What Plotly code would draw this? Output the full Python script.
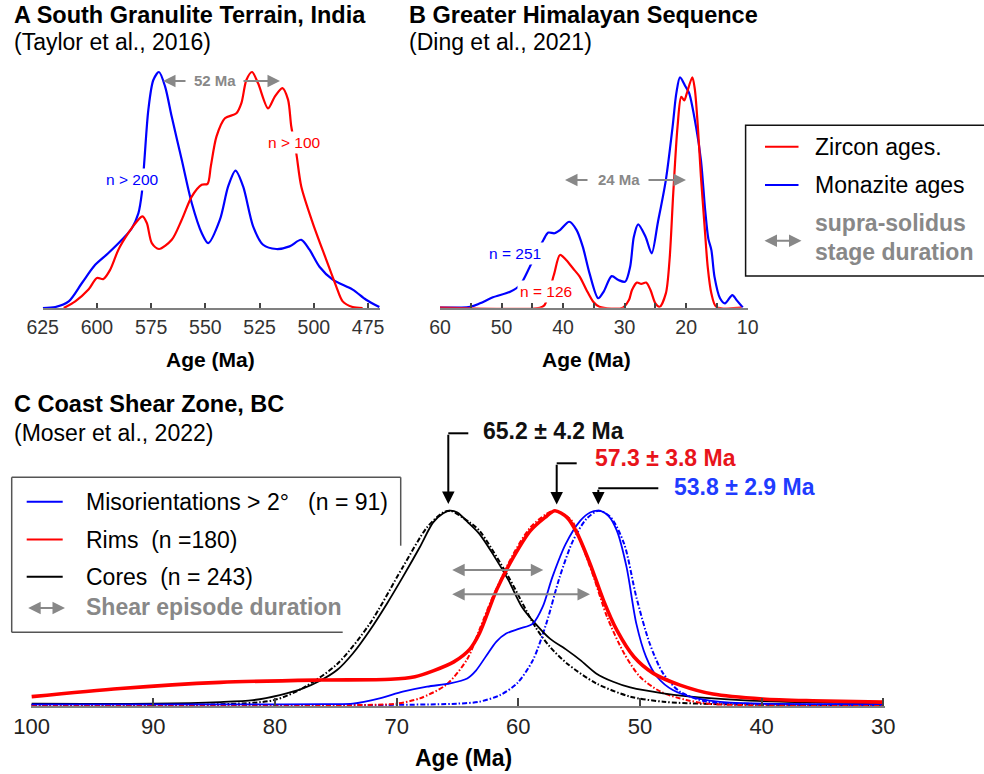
import plotly.graph_objects as go

W, H = 984, 774
FONT = "Liberation Sans, Arial, sans-serif"
BLUE, RED, GRAY, BLACK = "#0000ff", "#ff0000", "#888888", "#000000"

# ---------------- Panel A: South Granulite Terrain (ages in Ma, normalised density)
a_blue_age = [625, 619.2, 613, 606.9, 600.8, 594.7, 588.5, 583.9, 580.9, 579.3, 578.1, 576.3, 574, 571.4,
              568.6, 565.5, 560.9, 556.3, 551.7, 548.7, 543.3, 539.5, 536.1, 532.6, 528, 523.4, 517.3,
              511.2, 505.8, 502, 497.4, 491.3, 482.1, 475.9, 469.8]
a_blue_val = [0, 0.004, 0.028, 0.106, 0.183, 0.233, 0.289, 0.338, 0.401, 0.487, 0.628, 0.84, 0.966, 1.0,
              0.939, 0.81, 0.628, 0.445, 0.318, 0.275, 0.374, 0.515, 0.582, 0.515, 0.346, 0.268, 0.25,
              0.261, 0.289, 0.247, 0.175, 0.12, 0.078, 0.035, 0.004]
a_red_age = [615.3, 610, 603.9, 600, 597, 593.9, 590.1, 585.5, 581.6, 579, 577, 574.7, 571.4, 565.5, 560.9,
             556.3, 551.7, 549.0, 547.5, 544.9, 541, 535.7, 533.4, 531.1, 528.5, 525.7, 521.1, 518, 514.5,
             511.9, 510.4, 508.1, 505.8, 500.5, 494.3, 489.7, 486.7, 482.1, 477.5]
a_red_val = [0, 0.028, 0.078, 0.127, 0.123, 0.162, 0.247, 0.318, 0.367, 0.388, 0.36, 0.275, 0.25, 0.289, 0.374,
             0.472, 0.522, 0.526, 0.6, 0.726, 0.804, 0.825, 0.868, 0.966, 1.0, 0.952, 0.846, 0.896, 0.932,
             0.883, 0.769, 0.656, 0.515, 0.36, 0.205, 0.092, 0.028, 0.004, 0]
a_ticks = [625, 600, 575, 550, 525, 500, 475]

# ---------------- Panel B: Greater Himalayan Sequence
b_blue_age = [60, 55.1, 53.5, 51.4, 48.6, 47.0, 45.4, 43.2, 42.4, 41.4, 40.5, 39.0, 37.8, 36.8, 35.7, 34.3,
              33.4, 32.1, 31.0, 29.9, 29.1, 28.5, 27.8, 26.6, 25.6, 24.6, 23.3, 22.2, 21.6, 21.0, 20.1,
              19.5, 18.4, 17.6, 16.9, 16.4, 15.9, 15.4, 14.5, 13.7, 12.5, 11.8, 10.8]
b_blue_val = [0, 0.004, 0.019, 0.045, 0.069, 0.098, 0.178, 0.294, 0.326, 0.323, 0.337, 0.373, 0.337, 0.265,
              0.149, 0.041, 0.07, 0.137, 0.12, 0.113, 0.178, 0.308, 0.362, 0.308, 0.236, 0.37, 0.554, 0.786,
              0.93, 1.0, 0.96, 0.93, 0.786, 0.641, 0.42, 0.3, 0.25, 0.135, 0.041, 0.019, 0.055, 0.033, 0.001]
b_red_age = [60, 43.8, 43.0, 41.5, 40.5, 39.5, 38.4, 37.3, 36.2, 35.1, 34.1, 30.3, 29.3, 28.8, 28.0, 27.3,
             26.5, 25.8, 25.0, 24.3, 23.3, 22.7, 22.1, 21.4, 20.8, 20.3, 19.9, 19.0, 18.6, 18.1, 17.6, 17.0,
             16.5, 15.9, 15.1, 11]
b_red_val = [0, 0, 0.012, 0.142, 0.229, 0.207, 0.171, 0.135, 0.077, 0.026, 0.004, 0, 0.033, 0.077, 0.109,
             0.103, 0.109, 0.077, 0.019, 0.004, 0.062, 0.207, 0.496, 0.786, 0.915, 0.9, 0.93, 1.0, 0.95,
             0.786, 0.569, 0.352, 0.178, 0.062, 0.004, 0]
b_ticks = [60, 55, 50, 45, 40, 35, 30, 25, 20, 15, 10]
b_ticktext = ["60", "", "50", "", "40", "", "30", "", "20", "", "10"]

# ---------------- Panel C: Coast Shear Zone
c_core_age = [100, 90, 84.5, 81.8, 79.6, 77.7, 76.3, 74.9, 73.6, 72.2, 70.8, 69.5, 68.1, 67.0, 66.2, 65.6,
              65.0, 64.0, 63.2, 62.1, 60.8, 59.7, 58.6, 57.4, 56.0, 54.9, 53.6, 52.2, 50.8, 48.1, 44.0,
              38.5, 30]
c_core_val = [0.012, 0.012, 0.02, 0.03, 0.056, 0.09, 0.129, 0.184, 0.269, 0.388, 0.524, 0.66, 0.813, 0.94,
              0.986, 1.0, 0.99, 0.932, 0.881, 0.779, 0.643, 0.507, 0.422, 0.345, 0.286, 0.235, 0.167, 0.124,
              0.095, 0.065, 0.039, 0.022, 0.014]
c_core_fit_age = [100, 85, 80.1, 77.7, 74.9, 72.2, 69.5, 67.5, 66.2, 65.6, 64.0, 63.2, 60.8, 58.6, 57.4,
                  56.0, 53.6, 50.8, 48.1, 44.0, 30]
c_core_fit_val = [0.005, 0.008, 0.03, 0.092, 0.214, 0.422, 0.711, 0.915, 0.99, 1.0, 0.94, 0.898, 0.66, 0.405,
                  0.303, 0.218, 0.116, 0.048, 0.022, 0.01, 0.005]
c_rim_age = [100, 92.7, 84.5, 76.3, 70.5, 68.5, 67.0, 65.3, 64.0, 63.2, 61.8, 60.4, 59.0, 57.8, 57.0, 56.0,
             55.2, 54.1, 53.0, 51.9, 50.5, 48.9, 46.7, 44.0, 39.9, 35.8, 30]
c_rim_val = [0.048, 0.09, 0.121, 0.133, 0.137, 0.15, 0.18, 0.226, 0.29, 0.371, 0.592, 0.762, 0.898, 0.966,
             1.0, 0.966, 0.889, 0.728, 0.541, 0.388, 0.252, 0.167, 0.107, 0.061, 0.036, 0.027, 0.02]
c_rim_fit_age = [100, 72, 70, 68.1, 65.9, 64.2, 63.2, 62.1, 60.4, 59.0, 57.7, 57.0, 55.6, 54.9, 53.8, 52.7,
                 51.3, 50.0, 48.3, 46.2, 44.0, 30]
c_rim_fit_val = [0.005, 0.006, 0.012, 0.039, 0.11, 0.24, 0.39, 0.558, 0.779, 0.915, 0.983, 1.0, 0.949, 0.847,
                 0.66, 0.456, 0.269, 0.15, 0.073, 0.031, 0.01, 0.005]
c_mis_age = [100, 80, 76, 73.6, 71.4, 69.5, 67.5, 65.6, 64.2, 63.5, 62.6, 61.8, 61.0, 59.9, 58.8, 58.0, 57.2,
             56.1, 54.9, 54.1, 53.4, 52.6, 51.9, 51.1, 50.3, 49.5, 48.6, 47.3, 45.3, 42.6, 30]
c_mis_val = [0.008, 0.008, 0.01, 0.012, 0.039, 0.073, 0.099, 0.116, 0.141, 0.18, 0.26, 0.33, 0.371, 0.396,
             0.422, 0.507, 0.66, 0.83, 0.949, 0.991, 1.0, 0.974, 0.898, 0.711, 0.422, 0.252, 0.15, 0.082,
             0.039, 0.017, 0.01]
c_mis_fit_age = [100, 70, 65, 63.2, 61.5, 60.1, 58.8, 57.7, 56.6, 55.5, 54.4, 53.4, 52.4, 51.3, 50.3, 49.2,
                 48.1, 46.7, 44.5, 40, 30]
c_mis_fit_val = [0.005, 0.006, 0.012, 0.022, 0.056, 0.116, 0.235, 0.422, 0.66, 0.847, 0.958, 1.0, 0.966, 0.83,
                 0.558, 0.32, 0.167, 0.073, 0.022, 0.01, 0.005]
c_ticks = [100, 90, 80, 70, 60, 50, 40, 30]
c_peaks = ["65.2 ± 4.2 Ma", "57.3 ± 3.8 Ma", "53.8 ± 2.9 Ma"]


def X(p):
    return p / W


def Y(p):
    return 1 - p / H


fig = go.Figure()


def curve(x, y, color, width, xa, ya, dash="solid"):
    fig.add_trace(go.Scatter(x=x, y=y, mode="lines", xaxis=xa, yaxis=ya, showlegend=False,
                             hoverinfo="skip",
                             line=dict(color=color, width=width, shape="spline", smoothing=0.8, dash=dash)))


curve(a_blue_age, a_blue_val, BLUE, 2.2, "x", "y")
curve(a_red_age, a_red_val, RED, 2.2, "x", "y")
curve(b_blue_age, b_blue_val, BLUE, 2.2, "x2", "y2")
curve(b_red_age, b_red_val, RED, 2.2, "x2", "y2")
DD = "5px,2px,1.5px,2px"
curve(c_core_fit_age, c_core_fit_val, BLACK, 2, "x3", "y3", DD)
curve(c_mis_fit_age, c_mis_fit_val, BLUE, 2, "x3", "y3", DD)
curve(c_rim_fit_age, c_rim_fit_val, RED, 2, "x3", "y3", DD)
curve(c_core_age, c_core_val, BLACK, 1.8, "x3", "y3")
curve(c_mis_age, c_mis_val, BLUE, 1.8, "x3", "y3")
curve(c_rim_age, c_rim_val, RED, 3.6, "x3", "y3")

axis_common = dict(showline=True, linecolor="#808080", linewidth=2, ticks="inside", tickcolor="#444",
                   tickwidth=1.5, showgrid=False, zeroline=False, fixedrange=True, automargin=False)

fig.update_layout(
    width=W, height=H, margin=dict(l=0, r=0, t=0, b=0, autoexpand=False), autosize=False,
    paper_bgcolor="white", plot_bgcolor="rgba(0,0,0,0)", showlegend=False,
    font=dict(family=FONT, color="#222"),
    xaxis=dict(domain=[X(42.7), X(380)], range=[625, 469.5], tickvals=a_ticks, ticklen=5,
               tickfont=dict(size=19.5, color="#333"), ticklabelstandoff=1, anchor="y", **axis_common),
    yaxis=dict(domain=[Y(308), Y(60)], range=[0, (308 - 60) / 236], visible=False, anchor="x",
               fixedrange=True),
    xaxis2=dict(domain=[X(440), X(747.7)], range=[60, 10], tickvals=b_ticks, ticktext=b_ticktext, ticklen=5,
                tickfont=dict(size=19.5, color="#333"), ticklabelstandoff=1, anchor="y2", **axis_common),
    yaxis2=dict(domain=[Y(307.7), Y(60)], range=[0, (307.7 - 60) / 230.4], visible=False, anchor="x2",
                fixedrange=True),
    xaxis3=dict(domain=[X(30.7), X(884.5)], range=[100.08, 29.9], tickvals=c_ticks, ticklen=8,
                tickfont=dict(size=22, color="#222"), ticklabelstandoff=0, anchor="y3", **axis_common),
    yaxis3=dict(domain=[Y(706), Y(470)], range=[0, (706 - 470) / 195.3], visible=False, anchor="x3",
                fixedrange=True),
)

ann = []


def text(s, x, y, size, color="#000", bold=False, xanchor="left", bg=None):
    d = dict(text=("<b>%s</b>" % s) if bold else s, x=X(x), y=Y(y), xref="paper", yref="paper",
             xanchor=xanchor, yanchor="middle", showarrow=False,
             font=dict(family=FONT, size=size, color=color))
    if bg:
        d.update(bgcolor=bg, borderpad=2)
    ann.append(d)


def arrow(x0, y0, x1, y1, color, width=2, both=False, size=1.25):
    # tip at (x1,y1) in pixels, tail at (x0,y0)
    ann.append(dict(text="", x=X(x1), y=Y(y1), xref="paper", yref="paper", showarrow=True,
                    ax=x0 - x1, ay=y0 - y1, axref="pixel", ayref="pixel", arrowhead=2, arrowsize=size,
                    arrowwidth=width, arrowcolor=color, standoff=0, startstandoff=0,
                    arrowside="end+start" if both else "end", startarrowhead=2, startarrowsize=size))


# titles
text("A South Granulite Terrain, India", 11.7, 15, 23.5, bold=True)
text("(Taylor et al., 2016)", 11.7, 42, 23)
text("B Greater Himalayan Sequence", 406.7, 15, 23.5, bold=True)
text("(Ding et al., 2021)", 406.7, 42, 23)
text("C Coast Shear Zone, BC", 11.7, 404, 23.5, bold=True)
text("(Moser et al., 2022)", 11.7, 433, 23)

# axis titles
text("Age (Ma)", 210, 360, 21, bold=True, xanchor="center")
text("Age (Ma)", 586, 360, 21, bold=True, xanchor="center")
text("Age (Ma)", 463, 757.5, 23, bold=True, xanchor="center")

# panel A labels
text("n > 200", 132.5, 179, 15.5, BLUE, xanchor="center", bg="white")
text("n > 100", 294, 142.7, 15.5, RED, xanchor="center", bg="white")
text("52 Ma", 214.7, 81, 15, GRAY, bold=True, xanchor="center")
arrow(187, 81, 163, 81, GRAY)
arrow(242, 81, 280, 81, GRAY)

# panel B labels
text("n = 251", 515.2, 253.3, 15.5, BLUE, xanchor="center", bg="white")
text("n = 126", 545.5, 291, 15.5, RED, xanchor="center", bg="white")
text("24 Ma", 619, 180, 15, GRAY, bold=True, xanchor="center")
arrow(589, 180, 565, 180, GRAY)
arrow(647, 180, 686, 180, GRAY)

# panel B legend
shapes = []


def seg(x0, y0, x1, y1, color, width):
    shapes.append(dict(type="line", xref="paper", yref="paper", x0=X(x0), y0=Y(y0), x1=X(x1), y1=Y(y1),
                       line=dict(color=color, width=width)))


shapes.append(dict(type="rect", xref="paper", yref="paper", x0=X(745.6), x1=X(1000), y0=Y(125.3), y1=Y(276),
                   line=dict(color="#111", width=1.5), fillcolor="rgba(0,0,0,0)"))
seg(765, 146.7, 798.5, 146.7, RED, 2)
seg(765, 185, 798.5, 185, BLUE, 2)
arrow(763, 240.7, 801.5, 240.7, GRAY, both=True)
text("Zircon ages.", 813.4, 146.7, 23)
text("Monazite ages", 813.4, 185, 23)
text("supra-solidus", 813.4, 223.3, 23, GRAY, bold=True)
text("stage duration", 813.4, 252.3, 23, GRAY, bold=True)

# panel C legend
seg(11.7, 477.3, 400.7, 477.3, "#555", 1.5)
seg(11.7, 477.3, 11.7, 632.3, "#555", 1.5)
seg(400.7, 477.3, 400.7, 545.7, "#555", 1.5)
seg(11.7, 632.3, 342.7, 632.3, "#555", 1.5)
seg(26.7, 501.7, 62.7, 501.7, BLUE, 2)
seg(26.7, 539.5, 62.7, 539.5, RED, 2)
seg(26.7, 576.7, 62.7, 576.7, BLACK, 2)
arrow(26.7, 608, 65, 608, GRAY, both=True)
NB = "\u00a0"
text("Misorientations > 2°" + NB * 3 + "(n = 91)", 84.3, 502, 23)
text("Rims" + NB * 2 + "(n =180)", 84.3, 539.5, 23)
text("Cores" + NB * 2 + "(n = 243)", 84.3, 576.7, 23)
text("Shear episode duration", 84.3, 606.7, 23, GRAY, bold=True)

# shear episode duration arrows
arrow(450.7, 570, 543.3, 570, GRAY, both=True)
arrow(450.7, 594.3, 590, 594.3, GRAY, both=True)

# peak callouts
text(c_peaks[0], 480.7, 430.5, 23, "#111", bold=True)
text(c_peaks[1], 593.3, 458.3, 23, "#e8141b", bold=True)
text(c_peaks[2], 671.7, 487.2, 23, "#1f3cff", bold=True)
seg(448.3, 433.3, 468.3, 433.3, BLACK, 2)
seg(556.7, 463.3, 576.7, 463.3, BLACK, 2)
seg(598.3, 488.3, 658.3, 488.3, BLACK, 2)
arrow(448.3, 433.3, 448.3, 504, BLACK)
arrow(556.7, 463.3, 556.7, 504.5, BLACK)
arrow(598.3, 488.3, 598.3, 504.5, BLACK)

fig.update_layout(annotations=ann, shapes=shapes)
fig.write_html("out.html", config={"displayModeBar": False})
